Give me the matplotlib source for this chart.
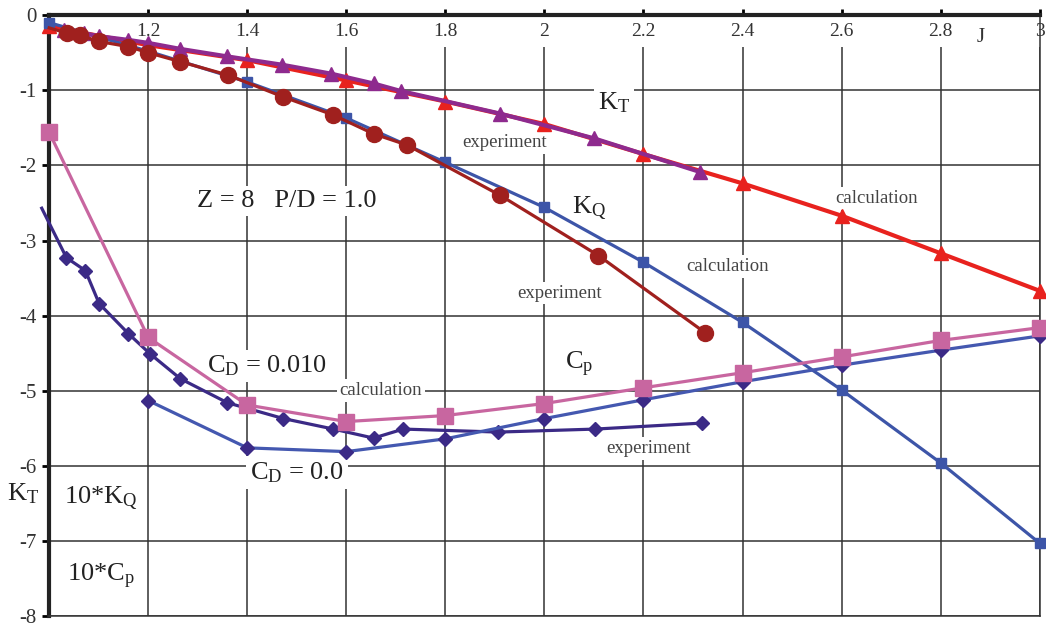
import matplotlib.pyplot as plt

plt.rcParams['font.family'] = 'Liberation Serif'
plt.rcParams['mathtext.fontset'] = 'custom'
plt.rcParams['mathtext.rm'] = 'Liberation Serif'
plt.rcParams['mathtext.it'] = 'Liberation Serif:italic'
plt.rcParams['axes.unicode_minus'] = False

# --- data ---
j_ticks = [1.2, 1.4, 1.6, 1.8, 2.0, 2.2, 2.4, 2.6, 2.8, 3.0]
j_tick_labels = ['1.2', '1.4', '1.6', '1.8', '2', '2.2', '2.4', '2.6', '2.8', '3']
y_ticks = [0, -1, -2, -3, -4, -5, -6, -7, -8]

j_calc = [1.0, 1.2, 1.4, 1.6, 1.8, 2.0, 2.2, 2.4, 2.6, 2.8, 3.0]
kt_calc = [-0.15, -0.40, -0.60, -0.87, -1.15, -1.45, -1.85, -2.24, -2.67, -3.17, -3.67]
kq_calc = [-0.10, -0.48, -0.89, -1.37, -1.96, -2.56, -3.29, -4.09, -4.99, -5.96, -7.03]
cp_calc = [-1.56, -4.29, -5.19, -5.41, -5.33, -5.17, -4.96, -4.76, -4.55, -4.33, -4.16]

j_cd0 = [1.2, 1.4, 1.6, 1.8, 2.0, 2.2, 2.4, 2.6, 2.8, 3.0]
cp_cd0 = [-5.13, -5.76, -5.81, -5.64, -5.37, -5.12, -4.88, -4.66, -4.46, -4.27]

j_kt_exp = [1.03, 1.07, 1.10, 1.16, 1.20, 1.265, 1.36, 1.47, 1.57, 1.655, 1.71, 1.91, 2.10, 2.315]
kt_exp = [-0.20, -0.24, -0.28, -0.33, -0.37, -0.45, -0.55, -0.66, -0.78, -0.91, -1.01, -1.31, -1.64, -2.09]

j_kq_exp = [1.0, 1.036, 1.063, 1.10, 1.16, 1.20, 1.265, 1.362, 1.473, 1.574, 1.655, 1.723, 1.911, 2.109, 2.325]
kq_exp = [-0.17, -0.24, -0.27, -0.35, -0.42, -0.50, -0.62, -0.80, -1.09, -1.33, -1.58, -1.73, -2.40, -3.20, -4.23]

j_cp_exp = [0.985, 1.035, 1.073, 1.101, 1.16, 1.204, 1.265, 1.36, 1.473, 1.574, 1.655, 1.715, 1.907, 2.103, 2.319]
cp_exp = [-2.57, -3.23, -3.40, -3.84, -4.24, -4.51, -4.84, -5.16, -5.37, -5.51, -5.63, -5.51, -5.55, -5.51, -5.43]

fig = plt.figure(figsize=(10.46, 6.3), dpi=100)
ax = fig.add_axes([0.047, 0.022, 0.947, 0.954])

# KT
ax.plot(j_calc, kt_calc, color='#e8221e', lw=3, marker='^', ms=10, clip_on=False, zorder=3)
ax.plot(j_kt_exp, kt_exp, color='#8e2a8e', lw=3, marker='^', ms=9.5, clip_on=False, zorder=4)
# KQ
ax.plot(j_calc, kq_calc, color='#3d55a8', lw=2.3, marker='s', ms=6.5, clip_on=False, zorder=3)
ax.plot(j_kq_exp, kq_exp, color='#a0201e', lw=2.3, marker='o', ms=11.5,
        markevery=list(range(1, len(j_kq_exp))), clip_on=False, zorder=4)
# Cp
ax.plot(j_cp_exp, cp_exp, color='#3b2a86', lw=2.3, marker='D', ms=7,
        markevery=list(range(1, len(j_cp_exp))), clip_on=False, zorder=3)
ax.plot(j_cd0, cp_cd0, color='#4458b0', lw=2.3, marker='D', ms=7, mfc='#3b2a86', mec='#3b2a86',
        clip_on=False, zorder=3)
ax.plot(j_calc, cp_calc, color='#c866a0', lw=2.3, marker='s', ms=12, clip_on=False, zorder=5)

ax.set_xlim(1.0, 3.0)
ax.set_ylim(-8, 0)

# ticks: x labels on top, drawn inside the frame
ax.xaxis.tick_top()
ax.set_xticks(j_ticks)
ax.set_xticklabels(j_tick_labels)
ax.tick_params(axis='x', direction='out', length=4, width=2, pad=-22, labelsize=14, labelcolor='#333333')
for lbl in ax.get_xticklabels():
    lbl.set_bbox(dict(boxstyle='square,pad=0.35', fc='white', ec='none'))
ax.set_yticks(y_ticks)
ax.tick_params(axis='y', direction='out', length=5, width=2, pad=4, labelsize=15, labelcolor='#333333')

ax.grid(True, color='#333333', lw=1.1)
for side in ['left', 'top']:
    ax.spines[side].set_linewidth(3)
    ax.spines[side].set_color('#222222')
for side in ['right', 'bottom']:
    ax.spines[side].set_linewidth(1.1)
    ax.spines[side].set_color('#333333')

box = dict(boxstyle='square,pad=0.15', fc='white', ec='none')
big = dict(fontsize=19, color='#222222', ha='center', va='center', bbox=box, zorder=2.2)
small = dict(fontsize=13.5, color='#444444', ha='center', va='center', bbox=box, zorder=2.2)

ax.text(2.14, -1.17, r'K$_{\mathrm{T}}$', **big)
ax.text(2.09, -2.57, r'K$_{\mathrm{Q}}$', **big)
ax.text(2.07, -4.65, r'C$_{\mathrm{p}}$', **big)
ax.text(1.48, -2.47, 'Z = 8   P/D = 1.0', **big)
ax.text(1.44, -4.67, r'C$_{\mathrm{D}}$ = 0.010', **big)
ax.text(1.50, -6.09, r'C$_{\mathrm{D}}$ = 0.0', **big)
ax.text(1.105, -6.43, r'10*K$_{\mathrm{Q}}$', **big)
ax.text(1.105, -7.47, r'10*C$_{\mathrm{p}}$', **big)
ax.text(0.948, -6.37, r'K$_{\mathrm{T}}$', clip_on=False, **big)
ax.text(2.88, -0.3, 'J', fontsize=15, color='#333333', ha='center', va='center')

ax.text(1.92, -1.70, 'experiment', **small)
ax.text(2.37, -3.35, 'calculation', **small)
ax.text(2.03, -3.70, 'experiment', **small)
ax.text(2.67, -2.44, 'calculation', **small)
ax.text(1.67, -5.00, 'calculation', **small)
ax.text(2.21, -5.77, 'experiment', **small)

fig.savefig('out.png', dpi=100)
